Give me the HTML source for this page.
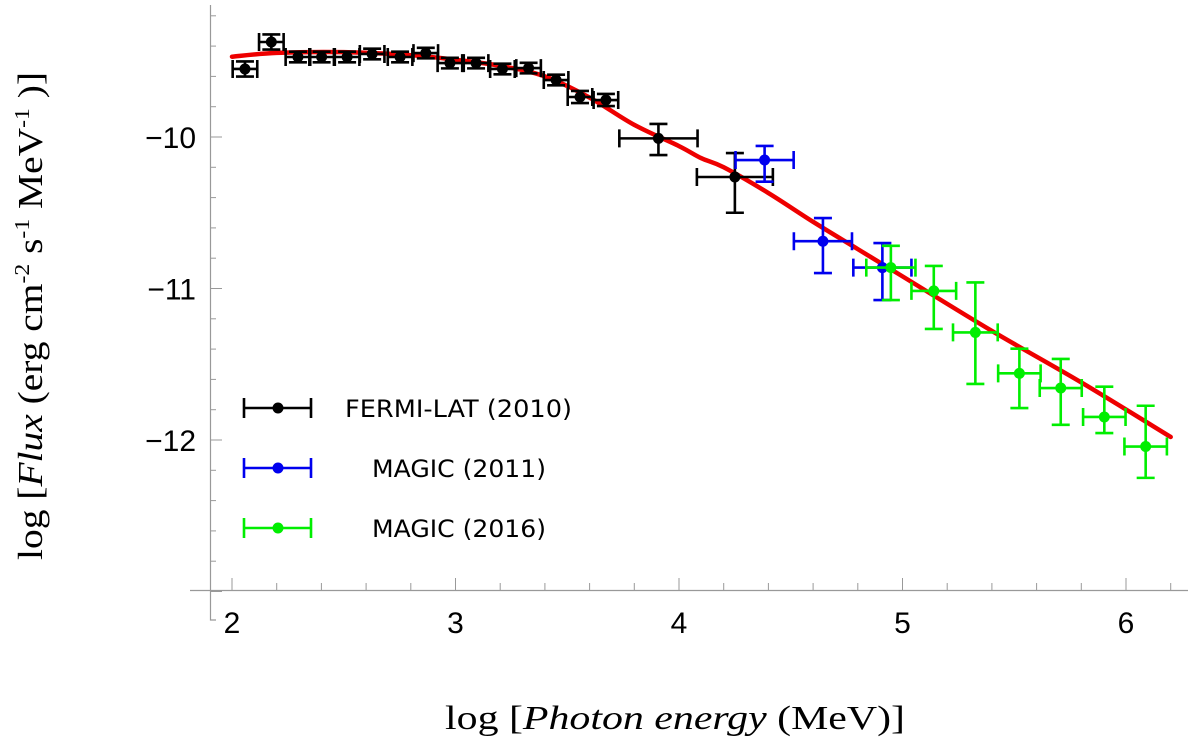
<!DOCTYPE html>
<html><head><meta charset="utf-8"><style>
html,body{margin:0;padding:0;background:#fff;}
svg{display:block;}
</style></head><body>
<svg id="chart" width="1200" height="756" viewBox="0 0 1200 756" xmlns="http://www.w3.org/2000/svg">
<g id="axes"></g>
<g id="curve"></g>
<g id="points"></g>
<g id="legend"></g>
<text transform="translate(42,316) rotate(-90)" text-anchor="middle" font-family="Liberation Serif, serif" font-size="35" textLength="488" lengthAdjust="spacingAndGlyphs">log [<tspan font-style="italic">Flux</tspan> (erg cm<tspan font-size="21" dy="-13">-2</tspan><tspan dy="13"> s</tspan><tspan font-size="21" dy="-13">-1</tspan><tspan dy="13"> MeV</tspan><tspan font-size="21" dy="-13">-1</tspan><tspan dy="13"> )]</tspan></text>
<text x="675" y="729" text-anchor="middle" font-family="Liberation Serif, serif" font-size="34" textLength="460" lengthAdjust="spacingAndGlyphs">log [<tspan font-style="italic">Photon energy</tspan> (MeV)]</text>
</svg>
<script>
const xTicks=[2,3,4,5,6];
const yTicks=[-10,-11,-12];
const fermiX=[2.058,2.176,2.295,2.401,2.515,2.627,2.752,2.867,2.975,3.092,3.21,3.327,3.45,3.557,3.673,3.908,4.25];
const fermiY=[-9.551,-9.373,-9.472,-9.472,-9.472,-9.452,-9.472,-9.446,-9.512,-9.512,-9.551,-9.545,-9.624,-9.736,-9.756,-10.009,-10.264];
const fermiXErr=[0.055,0.055,0.055,0.055,0.055,0.055,0.055,0.055,0.055,0.055,0.055,0.055,0.055,0.055,0.055,0.175,0.17];
const fermiYHi=[0.05,0.05,0.035,0.035,0.035,0.035,0.035,0.035,0.035,0.035,0.035,0.035,0.035,0.04,0.04,0.095,0.158];
const fermiYLo=[0.05,0.05,0.035,0.035,0.035,0.035,0.035,0.035,0.035,0.035,0.035,0.035,0.035,0.04,0.04,0.11,0.236];
const blueX=[4.383,4.644,4.91];
const blueY=[-10.152,-10.688,-10.862];
const blueXErr=[0.13,0.13,0.13];
const blueYHi=[0.093,0.153,0.162];
const blueYLo=[0.143,0.21,0.214];
const greenX=[4.948,5.14,5.326,5.523,5.708,5.903,6.088];
const greenY=[-10.862,-11.016,-11.29,-11.56,-11.657,-11.848,-12.043];
const greenXErr=[0.11,0.1,0.1,0.095,0.094,0.095,0.095];
const greenYHi=[0.144,0.165,0.33,0.163,0.192,0.2,0.269];
const greenYLo=[0.214,0.251,0.34,0.229,0.243,0.106,0.207];
const curveX=[2.0,2.2,2.5,2.8,3.0,3.2,3.4,3.6,3.8,4.0,4.1,4.2,4.4,4.6,4.8,5.0,5.4,5.8,6.2];
const curveY=[-9.47,-9.445,-9.44,-9.46,-9.49,-9.53,-9.6,-9.74,-9.92,-10.06,-10.14,-10.2,-10.37,-10.56,-10.74,-10.92,-11.28,-11.62,-11.98];

const NS='http://www.w3.org/2000/svg';
function sx(v){return 232+(v-2)*223.5;}
function sy(v){return 137-(v+10)*151.5;}
function mk(tag,attrs,parent){const e=document.createElementNS(NS,tag);for(const k in attrs)e.setAttribute(k,attrs[k]);parent.appendChild(e);return e;}

const axes=document.getElementById('axes');
let l=mk('line',{x1:190,y1:590.5,x2:1188,y2:590.5,stroke:'#999','stroke-width':1.2},axes);


l=mk('polyline',{points:'210.5,5 210.5,620 216,620',fill:'none',stroke:'#999','stroke-width':1.2},axes);


for(let i=0;i<=21;i++){const v=2+i*0.2;const major=Math.abs(v-Math.round(v))<1e-6;const x=sx(v);if(x>1188)break;
  const t=mk('line',{x1:x,y1:590.5,x2:x,y2:major?578:583,stroke:'#999','stroke-width':1},axes);
  
  }
for(let i=0;i<=19;i++){const v=-13+i*0.2;const y=sy(v);if(y<5)break;const major=Math.abs(v-Math.round(v))<1e-6;
  const t=mk('line',{x1:210.5,y1:y,x2:major?222:216,y2:y,stroke:'#999','stroke-width':1},axes);
  
  }
xTicks.forEach(v=>{const t=mk('text',{x:sx(v),y:633,'text-anchor':'middle','font-family':'Liberation Sans, sans-serif','font-size':30},axes);t.textContent=v;
  
  });
yTicks.forEach(v=>{const t=mk('text',{x:196,y:sy(v)+11,'text-anchor':'end','font-family':'Liberation Sans, sans-serif','font-size':30},axes);t.textContent='\u2212'+Math.abs(v);
  
  });

const pts=curveX.map((x,i)=>[sx(x),sy(curveY[i])]);
let d='M'+pts[0][0]+','+pts[0][1];
for(let i=0;i<pts.length-1;i++){const p0=pts[Math.max(0,i-1)],p1=pts[i],p2=pts[i+1],p3=pts[Math.min(pts.length-1,i+2)];
  d+=' C'+(p1[0]+(p2[0]-p0[0])/6)+','+(p1[1]+(p2[1]-p0[1])/6)+' '+(p2[0]-(p3[0]-p1[0])/6)+','+(p2[1]-(p3[1]-p1[1])/6)+' '+p2[0]+','+p2[1];}
const cp=mk('path',{d:d,fill:'none',stroke:'#ee0000','stroke-width':4.5,'stroke-linecap':'round'},document.getElementById('curve'));



const pg=document.getElementById('points');
function series(X,Y,XE,YH,YL,color,name){
  const g=mk('g',{},pg);
  
  
  X.forEach((xv,i)=>{const cx=sx(xv),cy=sy(Y[i]);const x1=sx(xv-XE[i]),x2=sx(xv+XE[i]);const y1=sy(Y[i]+YH[i]),y2=sy(Y[i]-YL[i]);
    const st={stroke:color,'stroke-width':2.6,fill:'none'};
    const p=mk('path',Object.assign({d:`M${x1},${cy}H${x2}M${x1},${cy-9}V${cy+9}M${x2},${cy-9}V${cy+9}M${cx},${y1}V${y2}M${cx-9},${y1}H${cx+9}M${cx-9},${y2}H${cx+9}`},st),g);
    
    
    const c=mk('circle',{cx:cx,cy:cy,r:5.5,fill:color},g);
    
    });
}
series(fermiX,fermiY,fermiXErr,fermiYHi,fermiYLo,'#000','fermi-lat-series');
series(blueX,blueY,blueXErr,blueYHi,blueYLo,'#0000ee','magic-2011-series');
series(greenX,greenY,greenXErr,greenYHi,greenYLo,'#00ee00','magic-2016-series');

const lg=document.getElementById('legend');
const legendLabels=['FERMI-LAT (2010)','MAGIC (2011)','MAGIC (2016)'];
const legendColors=['#000','#0000ee','#00ee00'];
const legendTextX=[345,372,372];
const legendTextW=[227,174,174];
legendLabels.forEach((lab,i)=>{const y=408+i*60;const c=legendColors[i];
  const g=mk('g',{},lg);
  
  
  mk('path',{d:`M244,${y}H311M244,${y-10}V${y+10}M311,${y-10}V${y+10}`,stroke:c,'stroke-width':2.6,fill:'none'},g);
  mk('circle',{cx:278,cy:y,r:5.5,fill:c},g);
  const t=mk('text',{x:legendTextX[i],y:y+9,'font-family':'DejaVu Sans, sans-serif','font-size':24,textLength:legendTextW[i],lengthAdjust:'spacingAndGlyphs'},g);t.textContent=lab;});
</script>
</body></html>
